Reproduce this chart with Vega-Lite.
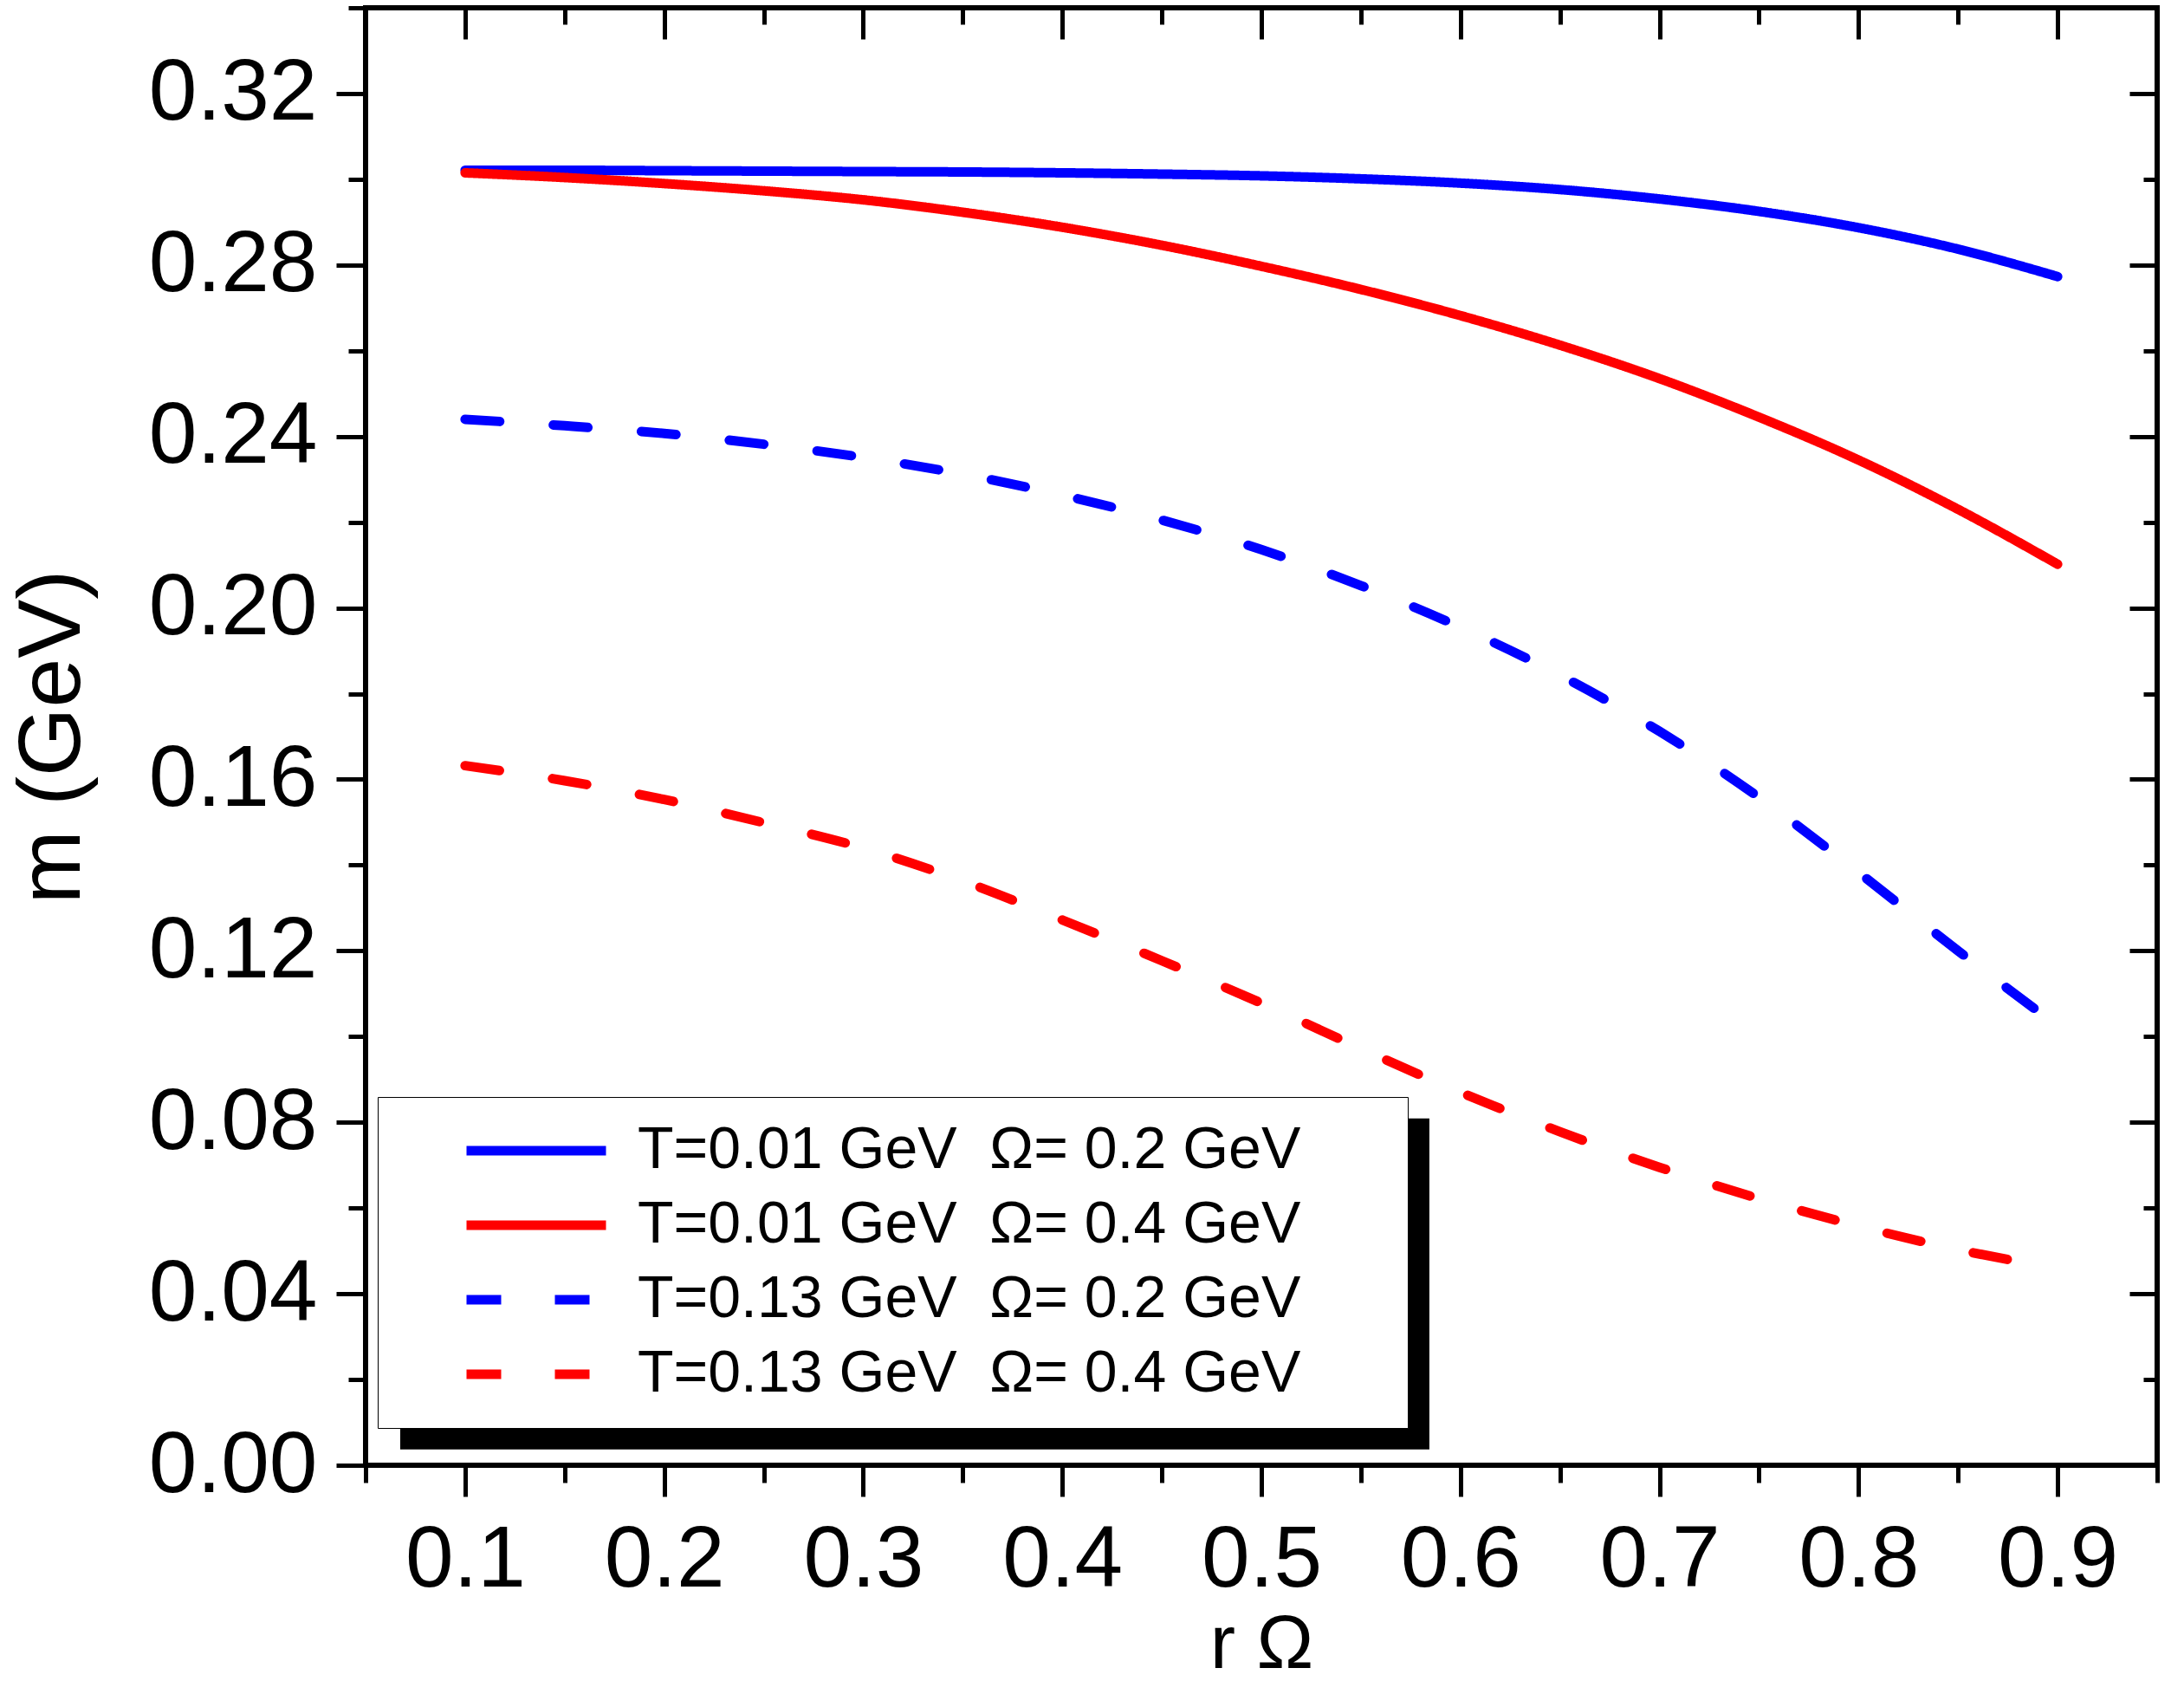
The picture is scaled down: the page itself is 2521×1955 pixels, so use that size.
{
  "$schema": "https://vega.github.io/schema/vega-lite/v6.json",
  "width": 2068,
  "height": 1682,
  "autosize": {"type": "none"},
  "padding": {"left": 422, "top": 9, "right": 31, "bottom": 264},
  "background": "white",
  "config": {
    "view": {"stroke": "black", "strokeWidth": 6},
    "axis": {
      "domain": false,
      "grid": false,
      "tickColor": "black",
      "tickWidth": 5,
      "labelFont": "Liberation Sans",
      "labelColor": "black",
      "labelLimit": 500,
      "titleFont": "Liberation Sans",
      "titleColor": "black",
      "titleFontWeight": "normal"
    }
  },
  "data": {
    "values": [
      {"series": "T=0.01 GeV\u00a0\u00a0Ω= 0.2 GeV", "r": 0.10, "m": 0.3021},
      {"series": "T=0.01 GeV\u00a0\u00a0Ω= 0.2 GeV", "r": 0.15, "m": 0.3021},
      {"series": "T=0.01 GeV\u00a0\u00a0Ω= 0.2 GeV", "r": 0.20, "m": 0.3020},
      {"series": "T=0.01 GeV\u00a0\u00a0Ω= 0.2 GeV", "r": 0.25, "m": 0.3019},
      {"series": "T=0.01 GeV\u00a0\u00a0Ω= 0.2 GeV", "r": 0.30, "m": 0.3018},
      {"series": "T=0.01 GeV\u00a0\u00a0Ω= 0.2 GeV", "r": 0.35, "m": 0.3017},
      {"series": "T=0.01 GeV\u00a0\u00a0Ω= 0.2 GeV", "r": 0.40, "m": 0.3015},
      {"series": "T=0.01 GeV\u00a0\u00a0Ω= 0.2 GeV", "r": 0.45, "m": 0.3012},
      {"series": "T=0.01 GeV\u00a0\u00a0Ω= 0.2 GeV", "r": 0.50, "m": 0.3008},
      {"series": "T=0.01 GeV\u00a0\u00a0Ω= 0.2 GeV", "r": 0.55, "m": 0.3001},
      {"series": "T=0.01 GeV\u00a0\u00a0Ω= 0.2 GeV", "r": 0.60, "m": 0.2991},
      {"series": "T=0.01 GeV\u00a0\u00a0Ω= 0.2 GeV", "r": 0.65, "m": 0.2976},
      {"series": "T=0.01 GeV\u00a0\u00a0Ω= 0.2 GeV", "r": 0.70, "m": 0.2954},
      {"series": "T=0.01 GeV\u00a0\u00a0Ω= 0.2 GeV", "r": 0.75, "m": 0.2925},
      {"series": "T=0.01 GeV\u00a0\u00a0Ω= 0.2 GeV", "r": 0.80, "m": 0.2887},
      {"series": "T=0.01 GeV\u00a0\u00a0Ω= 0.2 GeV", "r": 0.85, "m": 0.2837},
      {"series": "T=0.01 GeV\u00a0\u00a0Ω= 0.2 GeV", "r": 0.90, "m": 0.2773},
      {"series": "T=0.01 GeV\u00a0\u00a0Ω= 0.4 GeV", "r": 0.10, "m": 0.3015},
      {"series": "T=0.01 GeV\u00a0\u00a0Ω= 0.4 GeV", "r": 0.15, "m": 0.3004},
      {"series": "T=0.01 GeV\u00a0\u00a0Ω= 0.4 GeV", "r": 0.20, "m": 0.2990},
      {"series": "T=0.01 GeV\u00a0\u00a0Ω= 0.4 GeV", "r": 0.25, "m": 0.2973},
      {"series": "T=0.01 GeV\u00a0\u00a0Ω= 0.4 GeV", "r": 0.30, "m": 0.2952},
      {"series": "T=0.01 GeV\u00a0\u00a0Ω= 0.4 GeV", "r": 0.35, "m": 0.2923},
      {"series": "T=0.01 GeV\u00a0\u00a0Ω= 0.4 GeV", "r": 0.40, "m": 0.2888},
      {"series": "T=0.01 GeV\u00a0\u00a0Ω= 0.4 GeV", "r": 0.45, "m": 0.2846},
      {"series": "T=0.01 GeV\u00a0\u00a0Ω= 0.4 GeV", "r": 0.50, "m": 0.2797},
      {"series": "T=0.01 GeV\u00a0\u00a0Ω= 0.4 GeV", "r": 0.55, "m": 0.2743},
      {"series": "T=0.01 GeV\u00a0\u00a0Ω= 0.4 GeV", "r": 0.60, "m": 0.2682},
      {"series": "T=0.01 GeV\u00a0\u00a0Ω= 0.4 GeV", "r": 0.65, "m": 0.2613},
      {"series": "T=0.01 GeV\u00a0\u00a0Ω= 0.4 GeV", "r": 0.70, "m": 0.2535},
      {"series": "T=0.01 GeV\u00a0\u00a0Ω= 0.4 GeV", "r": 0.75, "m": 0.2445},
      {"series": "T=0.01 GeV\u00a0\u00a0Ω= 0.4 GeV", "r": 0.80, "m": 0.2345},
      {"series": "T=0.01 GeV\u00a0\u00a0Ω= 0.4 GeV", "r": 0.85, "m": 0.2230},
      {"series": "T=0.01 GeV\u00a0\u00a0Ω= 0.4 GeV", "r": 0.90, "m": 0.2102},
      {"series": "T=0.13 GeV\u00a0\u00a0Ω= 0.2 GeV", "r": 0.10, "m": 0.2440},
      {"series": "T=0.13 GeV\u00a0\u00a0Ω= 0.2 GeV", "r": 0.15, "m": 0.2425},
      {"series": "T=0.13 GeV\u00a0\u00a0Ω= 0.2 GeV", "r": 0.20, "m": 0.2407},
      {"series": "T=0.13 GeV\u00a0\u00a0Ω= 0.2 GeV", "r": 0.25, "m": 0.2382},
      {"series": "T=0.13 GeV\u00a0\u00a0Ω= 0.2 GeV", "r": 0.30, "m": 0.2351},
      {"series": "T=0.13 GeV\u00a0\u00a0Ω= 0.2 GeV", "r": 0.35, "m": 0.2312},
      {"series": "T=0.13 GeV\u00a0\u00a0Ω= 0.2 GeV", "r": 0.40, "m": 0.2263},
      {"series": "T=0.13 GeV\u00a0\u00a0Ω= 0.2 GeV", "r": 0.45, "m": 0.2205},
      {"series": "T=0.13 GeV\u00a0\u00a0Ω= 0.2 GeV", "r": 0.50, "m": 0.2136},
      {"series": "T=0.13 GeV\u00a0\u00a0Ω= 0.2 GeV", "r": 0.55, "m": 0.2052},
      {"series": "T=0.13 GeV\u00a0\u00a0Ω= 0.2 GeV", "r": 0.60, "m": 0.1955},
      {"series": "T=0.13 GeV\u00a0\u00a0Ω= 0.2 GeV", "r": 0.65, "m": 0.1843},
      {"series": "T=0.13 GeV\u00a0\u00a0Ω= 0.2 GeV", "r": 0.70, "m": 0.1712},
      {"series": "T=0.13 GeV\u00a0\u00a0Ω= 0.2 GeV", "r": 0.75, "m": 0.1558},
      {"series": "T=0.13 GeV\u00a0\u00a0Ω= 0.2 GeV", "r": 0.80, "m": 0.1383},
      {"series": "T=0.13 GeV\u00a0\u00a0Ω= 0.2 GeV", "r": 0.85, "m": 0.1200},
      {"series": "T=0.13 GeV\u00a0\u00a0Ω= 0.2 GeV", "r": 0.90, "m": 0.1025},
      {"series": "T=0.13 GeV\u00a0\u00a0Ω= 0.4 GeV", "r": 0.10, "m": 0.1632},
      {"series": "T=0.13 GeV\u00a0\u00a0Ω= 0.4 GeV", "r": 0.15, "m": 0.1597},
      {"series": "T=0.13 GeV\u00a0\u00a0Ω= 0.4 GeV", "r": 0.20, "m": 0.1553},
      {"series": "T=0.13 GeV\u00a0\u00a0Ω= 0.4 GeV", "r": 0.25, "m": 0.1499},
      {"series": "T=0.13 GeV\u00a0\u00a0Ω= 0.4 GeV", "r": 0.30, "m": 0.1440},
      {"series": "T=0.13 GeV\u00a0\u00a0Ω= 0.4 GeV", "r": 0.35, "m": 0.1363},
      {"series": "T=0.13 GeV\u00a0\u00a0Ω= 0.4 GeV", "r": 0.40, "m": 0.1272},
      {"series": "T=0.13 GeV\u00a0\u00a0Ω= 0.4 GeV", "r": 0.45, "m": 0.1177},
      {"series": "T=0.13 GeV\u00a0\u00a0Ω= 0.4 GeV", "r": 0.50, "m": 0.1078},
      {"series": "T=0.13 GeV\u00a0\u00a0Ω= 0.4 GeV", "r": 0.55, "m": 0.0972},
      {"series": "T=0.13 GeV\u00a0\u00a0Ω= 0.4 GeV", "r": 0.60, "m": 0.0870},
      {"series": "T=0.13 GeV\u00a0\u00a0Ω= 0.4 GeV", "r": 0.65, "m": 0.0778},
      {"series": "T=0.13 GeV\u00a0\u00a0Ω= 0.4 GeV", "r": 0.70, "m": 0.0695},
      {"series": "T=0.13 GeV\u00a0\u00a0Ω= 0.4 GeV", "r": 0.75, "m": 0.0622},
      {"series": "T=0.13 GeV\u00a0\u00a0Ω= 0.4 GeV", "r": 0.80, "m": 0.0558},
      {"series": "T=0.13 GeV\u00a0\u00a0Ω= 0.4 GeV", "r": 0.85, "m": 0.0503},
      {"series": "T=0.13 GeV\u00a0\u00a0Ω= 0.4 GeV", "r": 0.90, "m": 0.0459}
    ]
  },
  "layer": [
    {
      "data": {"values": [{}]},
      "mark": {"type": "rect", "color": "black"},
      "encoding": {
        "x": {"datum": 0.0674, "type": "quantitative", "scale": {"domain": [0.05, 0.95], "nice": false, "zero": false}, "axis": null},
        "x2": {"datum": 0.5844},
        "y": {"datum": 0.0809, "type": "quantitative", "scale": {"domain": [0, 0.34], "nice": false, "zero": false}, "axis": null},
        "y2": {"datum": 0.0037}
      }
    },
    {
      "mark": {"type": "line", "strokeWidth": 11, "strokeCap": "round", "strokeJoin": "round", "interpolate": "monotone"},
      "encoding": {
        "x": {
          "field": "r",
          "type": "quantitative",
          "scale": {"domain": [0.05, 0.95], "nice": false, "zero": false},
          "axis": {
            "orient": "bottom",
            "values": [0.1, 0.2, 0.3, 0.4, 0.5, 0.6, 0.7, 0.8, 0.9],
            "format": ".1f",
            "labelFontSize": 100,
            "labelFlush": false,
            "labelPadding": 24,
            "tickSize": 36,
            "title": "r Ω",
            "titleFontSize": 88,
            "titlePadding": 4
          }
        },
        "y": {
          "field": "m",
          "type": "quantitative",
          "scale": {"domain": [0, 0.34], "nice": false, "zero": false},
          "axis": {
            "orient": "left",
            "values": [0, 0.04, 0.08, 0.12, 0.16, 0.2, 0.24, 0.28, 0.32],
            "format": ".2f",
            "labelFontSize": 100,
            "labelFlush": false,
            "labelPadding": 22,
            "tickSize": 34,
            "title": "m (GeV)",
            "titleFontSize": 102,
            "titlePadding": 110
          }
        },
        "color": {
          "field": "series",
          "type": "nominal",
          "scale": {
            "domain": ["T=0.01 GeV\u00a0\u00a0Ω= 0.2 GeV", "T=0.01 GeV\u00a0\u00a0Ω= 0.4 GeV", "T=0.13 GeV\u00a0\u00a0Ω= 0.2 GeV", "T=0.13 GeV\u00a0\u00a0Ω= 0.4 GeV"],
            "range": ["#0000ff", "#ff0000", "#0000ff", "#ff0000"]
          },
          "legend": {
            "title": null,
            "orient": "none",
            "legendX": 14,
            "legendY": 1257,
            "padding": 28,
            "fillColor": "white",
            "strokeColor": "black",
            "symbolType": "stroke",
            "symbolSize": 25921,
            "symbolStrokeWidth": 11,
            "symbolOffset": 69,
            "labelOffset": 31,
            "labelFont": "Liberation Sans",
            "labelFontSize": 68,
            "labelColor": "black",
            "labelLimit": 3000,
            "clipHeight": 68,
            "rowPadding": 18,
            "labelExpr": "datum.label + '\u00a0\u00a0\u00a0\u00a0\u2009\u200a\u200d'"
          }
        },
        "strokeDash": {
          "field": "series",
          "type": "nominal",
          "scale": {
            "domain": ["T=0.01 GeV\u00a0\u00a0Ω= 0.2 GeV", "T=0.01 GeV\u00a0\u00a0Ω= 0.4 GeV", "T=0.13 GeV\u00a0\u00a0Ω= 0.2 GeV", "T=0.13 GeV\u00a0\u00a0Ω= 0.4 GeV"],
            "range": [[1, 0], [1, 0], [40, 62], [40, 62]]
          },
          "legend": {
            "title": null,
            "orient": "none",
            "legendX": 14,
            "legendY": 1257,
            "padding": 28,
            "fillColor": "white",
            "strokeColor": "black",
            "symbolType": "stroke",
            "symbolSize": 25921,
            "symbolStrokeWidth": 11,
            "symbolOffset": 69,
            "labelOffset": 31,
            "labelFont": "Liberation Sans",
            "labelFontSize": 68,
            "labelColor": "black",
            "labelLimit": 3000,
            "clipHeight": 68,
            "rowPadding": 18,
            "labelExpr": "datum.label + '\u00a0\u00a0\u00a0\u00a0\u2009\u200a\u200d'"
          }
        }
      }
    },
    {
      "mark": {"type": "point", "opacity": 0},
      "encoding": {
        "x": {
          "field": "r",
          "type": "quantitative",
          "scale": {"domain": [0.05, 0.95], "nice": false, "zero": false},
          "axis": {"orient": "bottom", "values": [0.05, 0.15, 0.25, 0.35, 0.45, 0.55, 0.65, 0.75, 0.85, 0.95], "labels": false, "tickSize": 20, "title": null}
        },
        "y": {
          "field": "m",
          "type": "quantitative",
          "scale": {"domain": [0, 0.34], "nice": false, "zero": false},
          "axis": {"orient": "left", "values": [0.02, 0.06, 0.1, 0.14, 0.18, 0.22, 0.26, 0.3, 0.34], "labels": false, "tickSize": 20, "title": null}
        }
      }
    },
    {
      "mark": {"type": "point", "opacity": 0},
      "encoding": {
        "x": {
          "field": "r",
          "type": "quantitative",
          "scale": {"domain": [0.05, 0.95], "nice": false, "zero": false},
          "axis": {"orient": "top", "values": [0.1, 0.2, 0.3, 0.4, 0.5, 0.6, 0.7, 0.8, 0.9], "labels": false, "tickSize": -36, "title": null}
        },
        "y": {
          "field": "m",
          "type": "quantitative",
          "scale": {"domain": [0, 0.34], "nice": false, "zero": false},
          "axis": {"orient": "right", "values": [0, 0.04, 0.08, 0.12, 0.16, 0.2, 0.24, 0.28, 0.32], "labels": false, "tickSize": -32, "title": null}
        }
      }
    },
    {
      "mark": {"type": "point", "opacity": 0},
      "encoding": {
        "x": {
          "field": "r",
          "type": "quantitative",
          "scale": {"domain": [0.05, 0.95], "nice": false, "zero": false},
          "axis": {"orient": "top", "values": [0.05, 0.15, 0.25, 0.35, 0.45, 0.55, 0.65, 0.75, 0.85, 0.95], "labels": false, "tickSize": -19, "title": null}
        },
        "y": {
          "field": "m",
          "type": "quantitative",
          "scale": {"domain": [0, 0.34], "nice": false, "zero": false},
          "axis": {"orient": "right", "values": [0.02, 0.06, 0.1, 0.14, 0.18, 0.22, 0.26, 0.3, 0.34], "labels": false, "tickSize": -16, "title": null}
        }
      }
    }
  ],
  "resolve": {"axis": {"x": "independent", "y": "independent"}}
}
